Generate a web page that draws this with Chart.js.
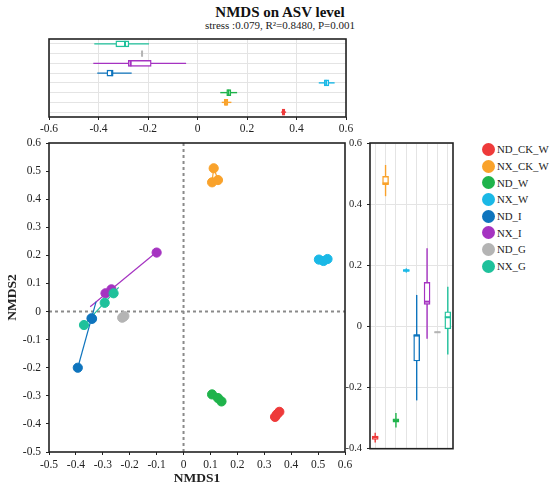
<!DOCTYPE html>
<html>
<head>
<meta charset="utf-8">
<script src="https://cdn.jsdelivr.net/npm/chart.js@4.4.0/dist/chart.umd.min.js"></script>
<style>
  body { margin: 0; background: #fff; font-family: "Liberation Serif", "Times New Roman", serif; }
  #wrap { position: relative; width: 550px; height: 489px; overflow: hidden; }
  .pane { position: absolute; }
  #title { position: absolute; left: 130px; width: 300px; top: 3px; text-align: center; font-weight: bold; font-size: 15px; line-height: 18px; color: #111; }
  #sub { position: absolute; left: 130px; width: 300px; top: 18px; text-align: center; font-size: 11px; line-height: 14px; color: #222; }
  #legend { position: absolute; left: 482px; top: 141px; }
  .item { height: 16.7px; display: flex; align-items: center; font-size: 10.8px; color: #222; }
  .dot { width: 13px; height: 13px; border-radius: 50%; margin-right: 2px; flex: none; }
</style>
</head>
<body>
<div id="wrap">
  <div id="title">NMDS on ASV level</div>
  <div id="sub">stress :0.079, R²=0.8480, P=0.001</div>
  <div class="pane" style="left:0;top:30px;width:360px;height:110px"><canvas id="topChart"></canvas></div>
  <div class="pane" style="left:0;top:130px;width:360px;height:359px"><canvas id="mainChart"></canvas></div>
  <div class="pane" style="left:335px;top:130px;width:125px;height:330px"><canvas id="rightChart"></canvas></div>
  <div id="legend"></div>
</div>
<script>
const groups = ['ND_CK_W', 'NX_CK_W', 'ND_W', 'NX_W', 'ND_I', 'NX_I', 'ND_G', 'NX_G'];
const colors = ['#EE3A3A', '#F9A22B', '#1FB34B', '#1AB8E6', '#0E74BD', '#A533C1', '#B4B4B4', '#1FC19B'];

// NMDS scores, three samples per group
const nmds1 = [
  [0.340, 0.347, 0.356],
  [0.112, 0.106, 0.128],
  [0.106, 0.128, 0.141],
  [0.503, 0.520, 0.535],
  [-0.393, -0.340, -0.342],
  [-0.290, -0.268, -0.100],
  [-0.228, -0.224, -0.220],
  [-0.370, -0.293, -0.260]
];
const nmds2 = [
  [-0.375, -0.366, -0.357],
  [0.510, 0.460, 0.468],
  [-0.295, -0.308, -0.320],
  [0.185, 0.180, 0.187],
  [-0.200, -0.026, -0.024],
  [0.065, 0.079, 0.210],
  [-0.022, -0.019, -0.016],
  [-0.048, 0.031, 0.065]
];

// group ellipses (very flat, so they show as lines)
const lineGroups = [4, 5, 7, 1];
const lineX = [[-0.393, -0.325], [-0.347, -0.100], [-0.365, -0.241], [0.106, 0.112, 0.128]];
const lineY = [[-0.200, 0.035], [0.017, 0.212], [-0.042, 0.086], [0.462, 0.510, 0.470]];

// boxplot stats: min, q1, median, q3, max
const boxNMDS1 = [
  [0.338, 0.342, 0.347, 0.353, 0.358],
  [0.098, 0.108, 0.115, 0.123, 0.137],
  [0.092, 0.118, 0.125, 0.135, 0.160],
  [0.490, 0.512, 0.520, 0.531, 0.554],
  [-0.405, -0.366, -0.345, -0.341, -0.266],
  [-0.421, -0.280, -0.270, -0.187, -0.046],
  [-0.226, -0.225, -0.224, -0.223, -0.222],
  [-0.417, -0.330, -0.293, -0.277, -0.196]
];
const boxNMDS2 = [
  [-0.380, -0.370, -0.363, -0.359, -0.348],
  [0.426, 0.464, 0.468, 0.491, 0.528],
  [-0.331, -0.313, -0.307, -0.302, -0.283],
  [0.176, 0.180, 0.183, 0.186, 0.190],
  [-0.242, -0.113, -0.030, -0.027, 0.103],
  [-0.040, 0.072, 0.081, 0.144, 0.256],
  [-0.021, -0.020, -0.019, -0.018, -0.017],
  [-0.092, -0.008, 0.030, 0.048, 0.130]
];

const serif = '"Liberation Serif", "Times New Roman", serif';
const ink = '#222';
const fmt = v => { const r = Math.round(v * 10) / 10; return r === 0 ? '0' : String(r); };

const frame = {
  id: 'frame',
  afterDraw(chart) {
    const a = chart.chartArea, ctx = chart.ctx;
    ctx.save();
    ctx.strokeStyle = ink;
    ctx.lineWidth = 1.6;
    ctx.strokeRect(a.left, a.top, a.right - a.left, a.bottom - a.top);
    ctx.restore();
  }
};

// whiskers under the boxes, medians on top
function boxPlugin(stats, cols) {
  const axes = chart => chart.options.indexAxis === 'y'
    ? { v: chart.scales.x, c: chart.scales.y, horiz: true }
    : { v: chart.scales.y, c: chart.scales.x, horiz: false };
  const seg = (ctx, horiz, c, a, b) => {
    ctx.beginPath();
    if (horiz) { ctx.moveTo(a, c); ctx.lineTo(b, c); } else { ctx.moveTo(c, a); ctx.lineTo(c, b); }
    ctx.stroke();
  };
  return {
    id: 'boxExtras',
    beforeDatasetsDraw(chart) {
      const { v, c, horiz } = axes(chart), ctx = chart.ctx;
      ctx.save();
      ctx.lineWidth = 1.4;
      stats.forEach((s, i) => {
        ctx.strokeStyle = cols[i];
        seg(ctx, horiz, c.getPixelForValue(i), v.getPixelForValue(s[0]), v.getPixelForValue(s[4]));
      });
      ctx.restore();
    },
    afterDatasetsDraw(chart) {
      const { v, c, horiz } = axes(chart), ctx = chart.ctx;
      ctx.save();
      ctx.lineWidth = 2;
      stats.forEach((s, i) => {
        ctx.strokeStyle = cols[i];
        const m = v.getPixelForValue(s[2]), p = c.getPixelForValue(i);
        ctx.beginPath();
        if (horiz) { ctx.moveTo(m, p - 3); ctx.lineTo(m, p + 3); }
        else { ctx.moveTo(p - 3, m); ctx.lineTo(p + 3, m); }
        ctx.stroke();
      });
      ctx.restore();
    }
  };
}

const zeroLines = {
  id: 'zeroLines',
  beforeDatasetsDraw(chart) {
    const { x, y } = chart.scales, a = chart.chartArea, ctx = chart.ctx;
    ctx.save();
    ctx.strokeStyle = '#8a8a8a';
    ctx.lineWidth = 2;
    ctx.setLineDash([3, 3]);
    ctx.beginPath();
    ctx.moveTo(x.getPixelForValue(0), a.top); ctx.lineTo(x.getPixelForValue(0), a.bottom);
    ctx.moveTo(a.left, y.getPixelForValue(0)); ctx.lineTo(a.right, y.getPixelForValue(0));
    ctx.stroke();
    ctx.restore();
  }
};

// top: NMDS1 boxplots, rows listed top to bottom in reverse group order
const rowOrder = groups.map((g, i) => i).reverse();
const topStats = rowOrder.map(i => boxNMDS1[i]);
const topCols = rowOrder.map(i => colors[i]);

new Chart(document.getElementById('topChart'), {
  type: 'bar',
  data: {
    labels: rowOrder.map(i => groups[i]),
    datasets: [{
      data: topStats.map(s => [s[1], s[3]]),
      backgroundColor: '#fff',
      borderColor: topCols,
      borderWidth: 1.4,
      borderSkipped: false,
      barThickness: 6
    }]
  },
  options: {
    indexAxis: 'y',
    responsive: true,
    maintainAspectRatio: false,
    animation: false,
    layout: { padding: { top: 9, right: 14 } },
    plugins: { legend: { display: false }, tooltip: { enabled: false } },
    scales: {
      x: {
        min: -0.6, max: 0.6,
        ticks: { stepSize: 0.2, callback: fmt, color: ink, font: { family: serif, size: 11.5 }, padding: 2 },
        grid: { color: '#e4e4e4', tickColor: ink, tickLength: 3 },
        border: { display: false },
        afterFit(s) { s.height = 23; }
      },
      y: {
        ticks: { display: false },
        grid: { color: '#e4e4e4', offset: false, drawTicks: false },
        border: { display: false },
        afterFit(s) { s.width = 49; }
      }
    }
  },
  plugins: [frame, boxPlugin(topStats, topCols)]
});

// main NMDS scatter
const mainSets = [];
lineGroups.forEach((g, k) => {
  mainSets.push({
    data: lineX[k].map((x, j) => ({ x: x, y: lineY[k][j] })),
    showLine: true,
    borderColor: colors[g],
    borderWidth: 1.2,
    pointRadius: 0,
    order: 20
  });
});
groups.forEach((g, i) => {
  mainSets.push({
    label: g,
    data: nmds1[i].map((x, j) => ({ x: x, y: nmds2[i][j] })),
    backgroundColor: colors[i],
    borderColor: colors[i],
    pointRadius: 4.6,
    order: groups.length - 1 - i
  });
});

new Chart(document.getElementById('mainChart'), {
  type: 'scatter',
  data: { datasets: mainSets },
  options: {
    responsive: true,
    maintainAspectRatio: false,
    animation: false,
    layout: { padding: { top: 13, right: 15 } },
    plugins: { legend: { display: false }, tooltip: { enabled: false } },
    scales: {
      x: {
        min: -0.5, max: 0.6,
        ticks: { stepSize: 0.1, callback: fmt, color: ink, font: { family: serif, size: 11.5 }, padding: 3, maxRotation: 0, autoSkip: false },
        grid: { drawOnChartArea: false, tickColor: ink, tickLength: 3 },
        border: { display: false },
        title: { display: true, text: 'NMDS1', color: ink, font: { family: serif, size: 13.5, weight: 'bold' }, padding: { top: 0, bottom: 2 } },
        afterFit(s) { s.height = 37; }
      },
      y: {
        min: -0.5, max: 0.6,
        ticks: { stepSize: 0.1, callback: fmt, color: ink, font: { family: serif, size: 11.5 }, padding: 5, autoSkip: false },
        grid: { drawOnChartArea: false, tickColor: ink, tickLength: 3 },
        border: { display: false },
        title: { display: true, text: 'NMDS2', color: ink, font: { family: serif, size: 13.5, weight: 'bold' }, padding: { top: 4, bottom: 0 } },
        afterFit(s) { s.width = 49; }
      }
    }
  },
  plugins: [frame, zeroLines]
});

// right: NMDS2 boxplots
new Chart(document.getElementById('rightChart'), {
  type: 'bar',
  data: {
    labels: groups,
    datasets: [{
      data: boxNMDS2.map(s => [s[1], s[3]]),
      backgroundColor: '#fff',
      borderColor: colors,
      borderWidth: 1.4,
      borderSkipped: false,
      barThickness: 6
    }]
  },
  options: {
    responsive: true,
    maintainAspectRatio: false,
    animation: false,
    layout: { padding: { top: 13, right: 7 } },
    plugins: { legend: { display: false }, tooltip: { enabled: false } },
    scales: {
      x: {
        ticks: { display: false },
        grid: { color: '#e4e4e4', offset: false, drawTicks: false },
        border: { display: false },
        afterFit(s) { s.height = 8; }
      },
      y: {
        min: -0.4, max: 0.6,
        ticks: { stepSize: 0.2, callback: fmt, color: ink, font: { family: serif, size: 10.5 }, padding: 5 },
        grid: { color: '#e4e4e4', tickColor: ink, tickLength: 3 },
        border: { display: false },
        afterFit(s) { s.width = 35; }
      }
    }
  },
  plugins: [frame, boxPlugin(boxNMDS2, colors)]
});

// legend
const legend = document.getElementById('legend');
groups.forEach((g, i) => {
  const row = document.createElement('div');
  row.className = 'item';
  row.innerHTML = '<span class="dot" style="background:' + colors[i] + '"></span>' + g;
  legend.appendChild(row);
});
</script>
</body>
</html>
